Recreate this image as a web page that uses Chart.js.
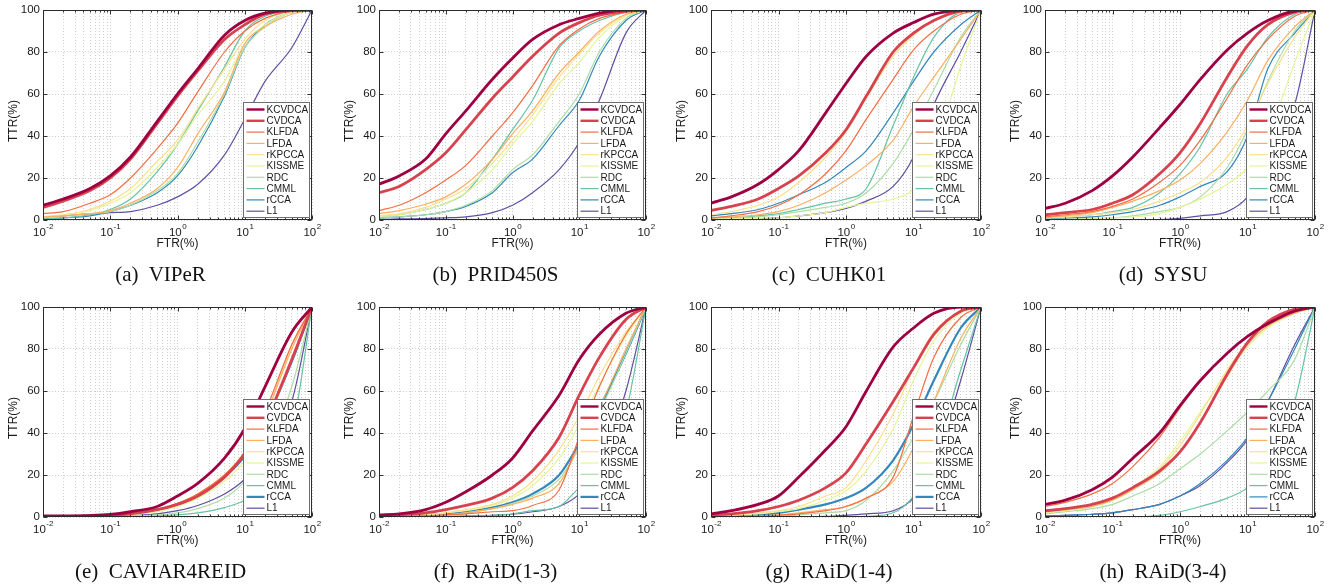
<!DOCTYPE html>
<html>
<head>
<meta charset="utf-8">
<script src="https://cdn.jsdelivr.net/npm/chart.js@4.4.0/dist/chart.umd.min.js"></script>
<style>
  body { margin: 0; background: #fff; width: 1332px; height: 588px; position: relative; overflow: hidden; }
  .panel { position: absolute; }
  .cap {
    position: absolute; transform: translateX(-50%); white-space: pre;
    font-family: "Liberation Serif", "Times New Roman", serif; font-size: 21px; line-height: 21px; color: #111;
  }
</style>
</head>
<body>
<script>
// FTR sample points (%), shared by every panel
const ftr = [0.01, 0.02, 0.05, 0.1, 0.2, 0.5, 1, 2, 5, 10, 20, 50, 100];
const methods = ["KCVDCA", "CVDCA", "KLFDA", "LFDA", "rKPCCA", "KISSME", "RDC", "CMML", "rCCA", "L1"];
const decades = [0.01, 0.1, 1, 10, 100];
const decadeExp = ["-2", "-1", "0", "1", "2"];
const yTicks = [0, 20, 40, 60, 80, 100];
const captions = ["(a)  VIPeR", "(b)  PRID450S", "(c)  CUHK01", "(d)  SYSU",
                  "(e)  CAVIAR4REID", "(f)  RAiD(1-3)", "(g)  RAiD(1-4)", "(h)  RAiD(3-4)"];

// TTR (%) per method, one row per entry of `methods`
const viper = [
  [7, 10, 15, 21, 30, 47, 60, 72, 88, 95, 98.5, 100, 100],
  [6, 9, 14, 20, 29, 46, 59, 71, 86, 93, 98, 99.7, 100],
  [3, 4, 8, 12, 20, 34, 46, 61, 80, 90, 96, 99.5, 100],
  [1.5, 2, 3, 4.5, 8, 15, 25, 41, 61, 84, 92, 98, 100],
  [1.5, 2.5, 5, 9, 15, 28, 38, 53, 72, 86, 95, 99.5, 100],
  [1.5, 2.5, 4.5, 8, 13, 25, 36, 50, 66, 84, 93, 99, 100],
  [1, 2, 3, 4, 7, 14, 22, 37, 60, 82, 92, 99, 100],
  [0.5, 1, 2.5, 5, 10, 23, 36, 52, 73, 90, 97, 99.8, 100],
  [0.5, 1, 2, 4, 7, 13, 21, 35, 59, 82, 93, 99, 100],
  [1.5, 2, 3, 3.5, 4, 7, 11, 17, 31, 48, 66, 82, 100],
];
const prid450s = [
  [17, 21, 29, 41, 52, 67, 77, 86, 93, 96, 98.5, 100, 100],
  [13, 16, 24, 32, 43, 58, 68, 78, 89, 94, 97.5, 99.5, 100],
  [4.5, 7, 13, 19, 26, 40, 51, 64, 83, 91, 96, 99, 100],
  [3, 4.5, 7.5, 11, 17, 29, 41, 52, 70, 80, 90, 98, 100],
  [2, 3, 6, 10, 15, 27, 38, 50, 68, 79, 89, 97.5, 100],
  [1.5, 2.5, 5, 8, 13, 24, 36, 47, 65, 75, 87, 97, 100],
  [1, 1.5, 2.5, 4, 7, 14, 24, 31, 47, 60, 80, 96, 100],
  [1.5, 2.5, 5, 8, 13, 29, 43, 57, 82, 90, 95, 99, 100],
  [1, 1.5, 2.5, 4, 6.5, 13, 22.5, 29, 45, 57, 78, 95, 100],
  [0.3, 0.5, 0.7, 1, 1.5, 3.5, 7, 13, 24, 37, 57, 89, 100],
];
const cuhk01 = [
  [8, 11, 17, 24, 33, 51, 65, 78, 89, 94, 98, 99.8, 100],
  [4.5, 6.5, 10, 15, 21, 32, 43, 59, 80, 89, 95, 99.5, 100],
  [1, 2, 4, 7, 12, 22, 33, 48, 67, 81, 90, 98, 100],
  [1, 1.5, 2.5, 4, 7, 13, 19, 26, 38, 54, 68, 86, 100],
  [2.5, 4, 7, 11, 18, 30, 42, 58, 78, 88, 95, 99, 100],
  [0.5, 0.6, 0.8, 1, 2, 3.5, 6, 8, 10, 15, 33, 73, 100],
  [0.5, 1, 1.5, 2.5, 4, 6, 8, 13, 27, 43, 62, 87, 100],
  [0.5, 1, 2, 3, 5, 8, 10, 15, 45, 68, 87, 99, 100],
  [2, 3, 5, 8, 12, 18, 25, 33, 51, 66, 80, 93, 100],
  [0, 0.2, 0.5, 1, 2, 3.5, 5.5, 9, 16, 30, 55, 80, 100],
];
const sysu = [
  [5.5, 8, 14, 21, 30, 44, 55, 67, 81, 89, 95, 99.5, 100],
  [2.5, 3.5, 5, 8, 12, 22, 32, 46, 68, 83, 93, 99, 100],
  [1.5, 2.5, 4, 6.5, 10, 18, 26, 38, 58, 74, 86, 97, 100],
  [1, 2, 3.5, 6, 9, 14, 19, 27, 42, 57, 76, 92, 100],
  [1, 1.5, 2.5, 3.5, 5, 9, 13, 18, 30, 45, 65, 87, 100],
  [0.2, 0.3, 0.5, 1, 1.5, 3, 6, 10, 17, 25, 40, 75, 100],
  [0.2, 0.4, 0.7, 1, 2, 4, 6, 11, 25, 43, 66, 90, 100],
  [1, 1.5, 2.5, 4, 6, 13, 22, 35, 60, 72, 87, 98, 100],
  [0.5, 0.8, 1.5, 2.5, 4, 7, 11, 16, 23, 40, 72, 89, 100],
  [0, 0, 0, 0, 0, 0.2, 0.8, 2, 4, 11, 28, 55, 100],
];
const caviar = [
  [0.5, 0.5, 0.7, 1.2, 2.5, 5, 10, 16, 28, 42, 62, 88, 100],
  [0.3, 0.3, 0.5, 0.8, 1.5, 3.5, 6, 10, 19, 30, 45, 75, 100],
  [0.3, 0.3, 0.5, 0.8, 1.5, 3.5, 6.5, 11, 20, 31, 50, 82, 100],
  [0.3, 0.3, 0.5, 0.8, 1.5, 3.5, 6.5, 11, 20, 31, 48, 80, 100],
  [0.3, 0.3, 0.5, 0.8, 1.5, 3.5, 6.5, 11, 20, 30, 47, 82, 100],
  [0.2, 0.2, 0.3, 0.5, 1, 2.5, 5, 9, 17, 27, 43, 75, 100],
  [0, 0, 0.1, 0.2, 0.5, 1, 2, 4, 9, 17, 30, 62, 100],
  [0, 0, 0, 0.1, 0.2, 0.5, 1, 2, 4.5, 8, 15, 40, 100],
  [0.3, 0.3, 0.5, 0.8, 1.5, 3.5, 6, 10, 19, 29, 45, 74, 100],
  [0.1, 0.1, 0.2, 0.4, 0.8, 1.5, 3, 5.5, 11, 18, 30, 55, 100],
];
const raid13 = [
  [1, 1.5, 3.5, 7, 12, 20, 28, 41, 58, 75, 87, 97, 100],
  [0.5, 1, 2, 3.5, 5.5, 9, 14, 22, 38, 58, 76, 94, 100],
  [0, 0.2, 0.5, 1, 1.5, 2.5, 3, 5.5, 13, 38, 62, 87, 100],
  [0.2, 0.3, 0.6, 1, 2, 4, 6, 9, 16, 34, 52, 80, 100],
  [0.3, 0.5, 1, 2, 3.5, 6, 10, 17, 32, 48, 67, 88, 100],
  [0.3, 0.5, 1, 2, 3, 5.5, 9, 15, 28, 44, 63, 86, 100],
  [0.2, 0.3, 0.6, 1, 2, 4, 6.5, 10, 18, 33, 50, 78, 100],
  [0, 0, 0.1, 0.2, 0.4, 0.8, 1.5, 3, 5, 14, 22, 50, 100],
  [0.3, 0.5, 1, 1.5, 2.5, 4.5, 7, 11, 20, 35, 52, 78, 100],
  [0, 0, 0.1, 0.2, 0.4, 0.8, 1.3, 2.5, 5, 11, 25, 60, 100],
];
const raid14 = [
  [1.5, 3, 6, 10, 19, 32, 43, 60, 81, 90, 97, 100, 100],
  [1, 1.5, 3, 5, 8, 14, 21, 35, 55, 71, 87, 98, 100],
  [0, 0.2, 0.4, 0.8, 1.5, 3, 5, 9, 19, 48, 76, 95, 100],
  [0.2, 0.3, 0.6, 1, 2, 3.5, 5, 9, 17, 33, 55, 85, 100],
  [0.5, 1, 2, 3, 5, 10, 14, 27, 49, 71, 88, 98, 100],
  [0.5, 0.8, 1.5, 2.5, 4, 8, 12.5, 22, 42, 65, 84, 97, 100],
  [0, 0.1, 0.2, 0.4, 1, 2, 3, 8, 22, 38, 55, 82, 100],
  [0, 0, 0, 0, 0, 0, 0, 0.3, 2, 10, 28, 70, 100],
  [0.3, 0.5, 1, 2, 3.5, 6, 9, 14, 27, 44, 65, 90, 100],
  [0, 0, 0, 0, 0.1, 0.3, 0.8, 1.5, 3, 9, 25, 65, 100],
];
const raid34 = [
  [6, 8, 13, 19, 28, 40, 53, 65, 78, 86, 92, 98, 100],
  [3, 4, 6, 9, 14, 22, 31, 45, 68, 83, 93, 99, 100],
  [5, 7, 11, 16, 24, 38, 52, 65, 78, 86, 92, 98, 100],
  [2.5, 3.5, 5, 8, 13, 21, 31, 45, 67, 82, 91, 97, 100],
  [2, 3, 5, 8, 13, 23, 34, 49, 70, 83, 91, 97, 100],
  [2.5, 3.5, 5.5, 8.5, 14, 24, 36, 50, 69, 81, 90, 97, 100],
  [1.5, 2.5, 4, 6, 10, 16, 23, 30, 41, 50, 60, 75, 100],
  [0, 0, 0, 0, 0, 0.8, 2.5, 5, 9, 14, 25, 55, 100],
  [0.5, 0.8, 1.3, 2, 3.5, 6, 10, 16, 27, 38, 55, 80, 100],
  [0.5, 0.8, 1.3, 2, 3.5, 6, 10, 15, 26, 37, 55, 82, 100],
];
const panelData = [viper, prid450s, cuhk01, sysu, caviar, raid13, raid14, raid34];

// plot areas in page pixels: [left, top, width, height]
const plotRects = [
  [43, 10, 269, 210], [379, 10, 267, 210], [711, 10, 270, 210], [1045, 10, 270, 210],
  [43, 307, 269, 210], [379, 307, 267, 210], [711, 307, 270, 210], [1045, 307, 270, 210],
];
const colors = ["#9e0142", "#d8424f", "#f46d43", "#fdae61", "#fee08b",
                "#e6f598", "#abdda4", "#66c2a5", "#3288bd", "#5e4fa2"];
const widths = [2.8, 2.8, 1.2, 1.2, 1.2, 1.2, 1.2, 1.2, 1.2, 1.2];
const thickRcca = [4, 5, 6];

const SANS = '"Liberation Sans", Arial, Helvetica, sans-serif';
const PAD_L = 43, PAD_T = 10, PAD_R = 12, PAD_B = 45;

// minor grid positions 1..9 x 10^k
const gridX = [];
decades.slice(0, -1).forEach(d => { for (let k = 1; k < 10; k++) gridX.push(+(d * k).toPrecision(3)); });
gridX.push(100);

const decor = {
  id: "decor",
  afterDatasetsDraw(chart) {
    const { ctx, chartArea: a, scales: { x, y } } = chart;
    const L = Math.round(a.left) + 0.5, T = Math.round(a.top) + 0.5;
    const R = Math.round(a.right) - 0.5, B = Math.round(a.bottom) - 0.5;
    ctx.save();
    // inner ticks
    ctx.strokeStyle = "#333"; ctx.lineWidth = 1;
    ctx.beginPath();
    gridX.forEach(v => {
      const px = Math.round(x.getPixelForValue(v)) + 0.5;
      const len = decades.includes(v) ? 4 : 2;
      ctx.moveTo(px, B); ctx.lineTo(px, B - len);
      ctx.moveTo(px, T); ctx.lineTo(px, T + len);
    });
    yTicks.forEach(v => {
      const py = Math.round(y.getPixelForValue(v)) + 0.5;
      ctx.moveTo(L, py); ctx.lineTo(L + 4, py);
      ctx.moveTo(R, py); ctx.lineTo(R - 4, py);
    });
    ctx.stroke();
    // frame
    ctx.strokeStyle = "#2b2b2b";
    ctx.strokeRect(L, T, R - L, B - T);

    // legend box
    const bw = 66, bh = 115;
    const bx = Math.round(a.right) - 3 - bw + 0.5, by = Math.round(a.bottom) - 3 - bh + 0.5;
    ctx.fillStyle = "#fff";
    ctx.fillRect(bx, by, bw, bh);
    ctx.strokeStyle = "#6e6e6e";
    ctx.strokeRect(bx, by, bw, bh);
    ctx.font = "10px " + SANS;
    ctx.textBaseline = "middle";
    ctx.textAlign = "left";
    chart.data.datasets.forEach((ds, i) => {
      const ry = by + 7 + i * 11.3;
      ctx.strokeStyle = ds.borderColor;
      ctx.lineWidth = Math.min(ds.borderWidth, 2.4);
      ctx.beginPath(); ctx.moveTo(bx + 3, ry); ctx.lineTo(bx + 21, ry); ctx.stroke();
      ctx.fillStyle = "#1a1a1a";
      ctx.fillText(ds.label, bx + 23, ry + 0.5);
    });

    // x tick labels 10^k
    ctx.fillStyle = "#1a1a1a";
    ctx.textBaseline = "alphabetic";
    decades.forEach((v, i) => {
      const px = x.getPixelForValue(v);
      ctx.font = "11.5px " + SANS;
      const wb = ctx.measureText("10").width;
      ctx.font = "8px " + SANS;
      const we = ctx.measureText(decadeExp[i]).width;
      const sx = px - (wb + we) / 2;
      ctx.font = "11.5px " + SANS;
      ctx.fillText("10", sx, a.bottom + 16);
      ctx.font = "8px " + SANS;
      ctx.fillText(decadeExp[i], sx + wb + 0.5, a.bottom + 9);
    });

    // axis titles
    ctx.font = "12px " + SANS;
    ctx.textAlign = "center";
    ctx.textBaseline = "middle";
    ctx.fillText("FTR(%)", (a.left + a.right) / 2, a.bottom + 24);
    ctx.save();
    ctx.translate(a.left - 29, (a.top + a.bottom) / 2 + 6);
    ctx.rotate(-Math.PI / 2);
    ctx.fillText("TTR(%)", 0, 0);
    ctx.restore();
    ctx.restore();
  }
};

panelData.forEach((rows, p) => {
  const [pl, pt, pw, ph] = plotRects[p];
  const div = document.createElement("div");
  div.className = "panel";
  div.style.left = (pl - PAD_L) + "px";
  div.style.top = (pt - PAD_T) + "px";
  div.style.width = (pw + PAD_L + PAD_R) + "px";
  div.style.height = (ph + PAD_T + PAD_B) + "px";
  const canvas = document.createElement("canvas");
  div.appendChild(canvas);
  document.body.appendChild(div);

  // subfigure captions sit a little left of the plot centre
  const cap = document.createElement("div");
  cap.className = "cap";
  cap.textContent = captions[p];
  cap.style.left = (pl + pw / 2 - 17) + "px";
  cap.style.top = (pt + ph + 62 - 18) + "px";
  document.body.appendChild(cap);

  const datasets = rows.map((vals, i) => ({
    label: methods[i],
    data: vals.map((v, j) => ({ x: ftr[j], y: v })),
    borderColor: colors[i],
    borderWidth: (i === 8 && thickRcca.includes(p)) ? 2.2 : widths[i],
    pointRadius: 0,
    fill: false,
    cubicInterpolationMode: "monotone",
  }));

  new Chart(canvas, {
    type: "line",
    data: { datasets },
    options: {
      responsive: true, maintainAspectRatio: false, animation: false,
      devicePixelRatio: 1,
      layout: { padding: { left: 0, top: PAD_T, right: PAD_R, bottom: 0 } },
      plugins: { legend: { display: false }, tooltip: { enabled: false } },
      scales: {
        x: {
          type: "logarithmic", min: 0.01, max: 100,
          afterBuildTicks: s => { s.ticks = gridX.map(v => ({ value: v })); },
          afterFit: s => { s.height = PAD_B; },
          ticks: { display: false },
          grid: { color: "#cfcfcf", lineWidth: 1, drawTicks: false },
          border: { display: false, dash: [1, 2] },
        },
        y: {
          min: 0, max: 100,
          afterBuildTicks: s => { s.ticks = yTicks.map(v => ({ value: v })); },
          afterFit: s => { s.width = PAD_L; },
          ticks: { font: { size: 11.5, family: SANS }, color: "#1a1a1a", padding: 3 },
          grid: { color: "#cfcfcf", lineWidth: 1, drawTicks: false },
          border: { display: false, dash: [1, 2] },
        },
      },
    },
    plugins: [decor],
  });
});
</script>
</body>
</html>
